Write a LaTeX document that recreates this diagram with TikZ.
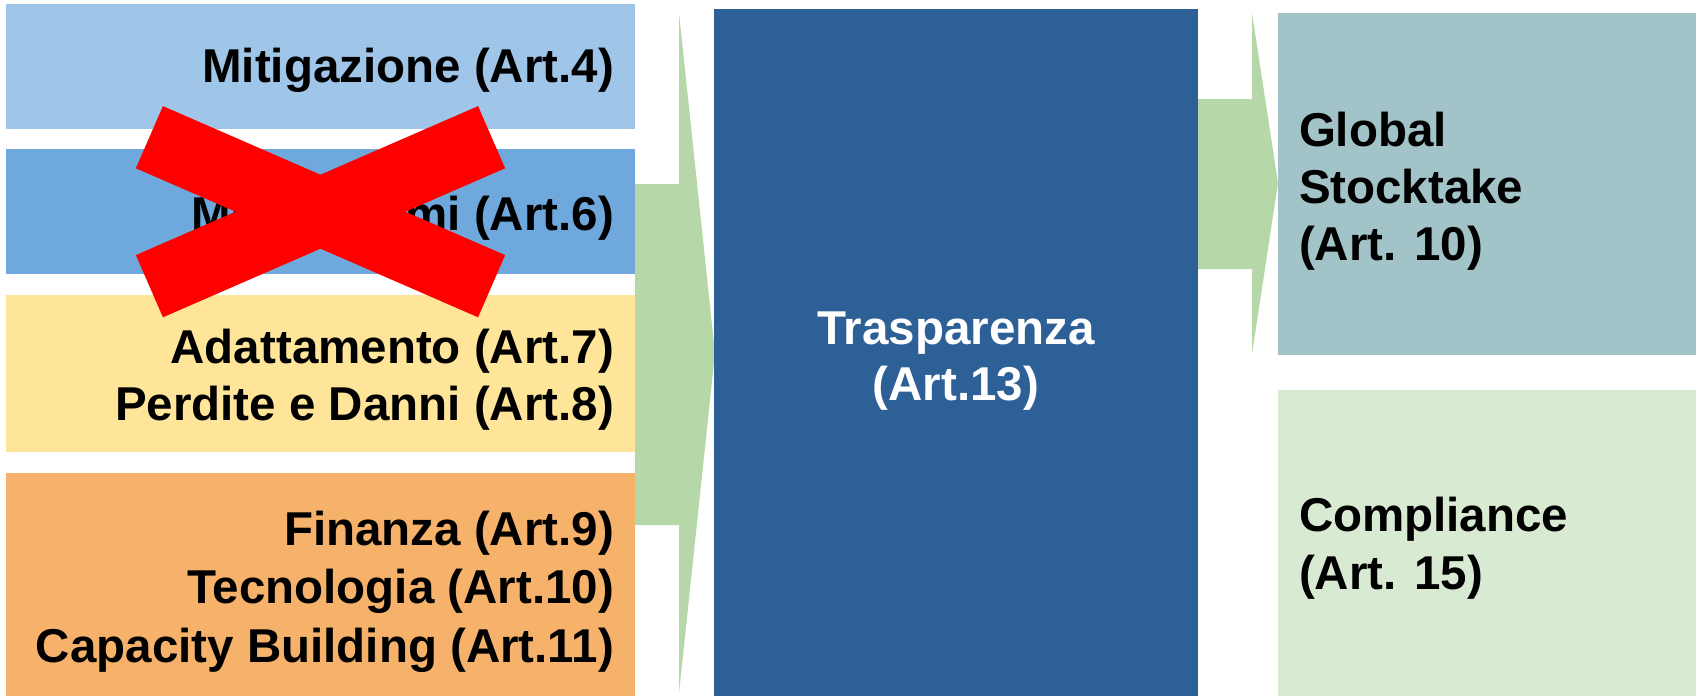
\documentclass[tikz,border=0pt]{standalone}
\usepackage{fontspec}
\setmainfont{Liberation Sans}
\definecolor{mitcol}{HTML}{9FC5E8}
\definecolor{mercol}{HTML}{6FA8DC}
\definecolor{adacol}{HTML}{FFE599}
\definecolor{fincol}{HTML}{F6B26B}
\definecolor{arrcol}{HTML}{B6D7A8}
\definecolor{tracol}{HTML}{2D6096}
\definecolor{glocol}{HTML}{A2C4C9}
\definecolor{comcol}{HTML}{D9EAD3}
\definecolor{xred}{HTML}{FF0000}
\begin{document}
\begin{tikzpicture}[x=0.5pt,y=-0.5pt,
  box/.style={rectangle, inner sep=0pt, outer sep=0pt, draw=none},
  lbl/.style={inner sep=0pt, outer sep=0pt, font=\fontsize{23.75}{28}\selectfont\bfseries},
  rlbl/.style={lbl, anchor=base east},
  wlbl/.style={lbl, anchor=base west},
  clbl/.style={lbl, anchor=base, text=white}]
\useasboundingbox (0,0) rectangle (1699,696);
% left boxes
\node[box, fill=mitcol, minimum width=314.5pt, minimum height=62.5pt] (mit) at (320.5,66.5) {};
\node[box, fill=mercol, minimum width=314.5pt, minimum height=62.5pt] (mer) at (320.5,211.5) {};
\node[box, fill=adacol, minimum width=314.5pt, minimum height=78.5pt] (ada) at (320.5,373.5) {};
\node[box, fill=fincol, minimum width=314.5pt, minimum height=111.5pt] (fin) at (320.5,584.5) {};
% left arrow
\coordinate (la1) at (635,184);
\coordinate (la2) at (679,184);
\coordinate (la3) at (679,13);
\coordinate (latip) at (715,353);
\coordinate (la5) at (679,693);
\coordinate (la6) at (679,525);
\coordinate (la7) at (635,525);
\fill[arrcol] (la1) -- (la2) -- (la3) -- (latip) -- (la5) -- (la6) -- (la7) -- cycle;
% central box
\node[box, fill=tracol, minimum width=242pt, minimum height=343.5pt] (tra) at (956,352.5) {};
% right arrow
\coordinate (ra1) at (1198,99);
\coordinate (ra2) at (1252,99);
\coordinate (ra3) at (1252,13);
\coordinate (ratip) at (1278,183);
\coordinate (ra5) at (1252,354);
\coordinate (ra6) at (1252,269);
\coordinate (ra7) at (1198,269);
\fill[arrcol] (ra1) -- (ra2) -- (ra3) -- (ratip) -- (ra5) -- (ra6) -- (ra7) -- cycle;
% right boxes
\node[box, fill=glocol, minimum width=209pt, minimum height=171pt] (glo) at (1487,184) {};
\node[box, fill=comcol, minimum width=209pt, minimum height=153pt] (com) at (1487,543) {};
% texts
\node[rlbl] (t1) at (614,83) {Mitigazione (Art.4)};
\node[rlbl] (t2) at (614,230) {Meccanismi (Art.6)};
\node[rlbl] (t3) at (614,363) {Adattamento (Art.7)};
\node[rlbl] (t4) at (614,420) {Perdite e Danni (Art.8)};
\node[rlbl] (t5) at (614,545) {Finanza (Art.9)};
\node[rlbl] (t6) at (614,603) {Tecnologia (Art.10)};
\node[rlbl] (t7) at (614,662) {Capacity Building (Art.11)};
\node[clbl] (t8) at (956,344) {Trasparenza};
\node[clbl] (t9) at (956,400) {(Art.13)};
\node[wlbl] (t10) at (1299,146) {Global};
\node[wlbl] (t11) at (1299,203) {Stocktake};
\node[wlbl] (t12) at (1299,260) {(Art. 10)};
\node[wlbl] (t13) at (1299,531) {Compliance};
\node[wlbl] (t14) at (1299,589) {(Art. 15)};
% red cross
\draw[xred, line width=33.9pt] (149.4,137.2) -- (491.6,286.2);
\draw[xred, line width=33.9pt] (491.6,137.2) -- (149.4,286.2);
\end{tikzpicture}
\end{document}
